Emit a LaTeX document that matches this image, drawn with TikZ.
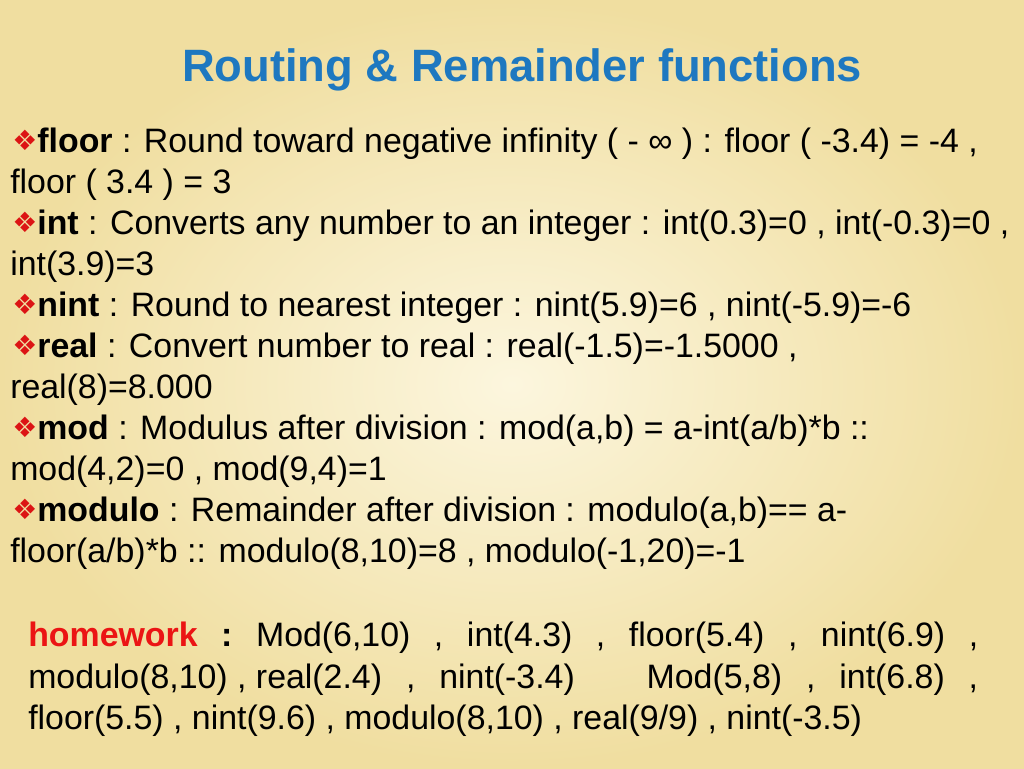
\documentclass[tikz,border=0pt]{standalone}
\usepackage{fontspec}
\setmainfont{Liberation Sans}
\newfontfamily\symfont{DejaVu Sans}
\definecolor{titleblue}{RGB}{30,120,192}
\definecolor{bulletred}{RGB}{220,20,20}
\definecolor{hwred}{RGB}{235,20,20}
\definecolor{bgin}{RGB}{252,246,222}
\definecolor{bgout}{RGB}{240,222,160}
\newcommand{\bul}{{\color{bulletred}\symfont\fontsize{21pt}{21pt}\selectfont\raisebox{1pt}{❖}}}
\tikzset{
  line/.style={anchor=base west,inner sep=0pt,font=\fontsize{25.4pt}{30pt}\selectfont},
  hw/.style={anchor=base west,inner sep=0pt,font=\fontsize{25.4pt}{30pt}\selectfont}
}
\begin{document}
\begin{tikzpicture}[x=0.75pt,y=-0.75pt]
  \useasboundingbox (0,0) rectangle (1024,768);
  \shade[inner color=bgin,outer color=bgout] (0,0) rectangle (1024,768);
  \node[anchor=center,inner sep=0pt,font=\bfseries\fontsize{34pt}{38pt}\selectfont,text=titleblue] (title) at (522,70) {Routing \& Remainder functions};
  % list of functions
  \node[line] (l1) at (12,152) {\bul\textbf{floor} : Round toward negative infinity ( - ∞ ) : floor ( -3.4) = -4 ,};
  \node[line] (l2) at (10,193) {floor ( 3.4 ) = 3};
  \node[line] (l3) at (12,234) {\bul\textbf{int} : Converts any number to an integer : int(0.3)=0 , int(-0.3)=0 ,};
  \node[line] (l4) at (10,275) {int(3.9)=3};
  \node[line] (l5) at (12,316) {\bul\textbf{nint} : Round to nearest integer : nint(5.9)=6 , nint(-5.9)=-6};
  \node[line] (l6) at (12,357) {\bul\textbf{real} : Convert number to real : real(-1.5)=-1.5000 ,};
  \node[line] (l7) at (10,398) {real(8)=8.000};
  \node[line] (l8) at (12,439) {\bul\textbf{mod} : Modulus after division : mod(a,b) = a-int(a/b)*b ::};
  \node[line] (l9) at (10,480) {mod(4,2)=0 , mod(9,4)=1};
  \node[line] (l10) at (12,521) {\bul\textbf{modulo} : Remainder after division : modulo(a,b)== a-};
  \node[line] (l11) at (10,562) {floor(a/b)*b :: modulo(8,10)=8 , modulo(-1,20)=-1};
  % homework
  \node[hw] (h1) at (28,646) {\hbox to 712.5pt{{\color{hwred}\textbf{homework}}\hfill\textbf{:}\hfill Mod(6,10)\hfill,\hfill int(4.3)\hfill,\hfill floor(5.4)\hfill,\hfill nint(6.9)\hfill,}};
  \node[hw] (h2) at (28,688) {\hbox to 712.5pt{modulo(8,10) , real(2.4)\hfill,\hfill nint(-3.4)\hfill\hfill\hfill Mod(5,8)\hfill,\hfill int(6.8)\hfill,}};
  \node[hw] (h3) at (28,729) {floor(5.5) , nint(9.6) , modulo(8,10) , real(9/9) , nint(-3.5)};
\end{tikzpicture}
\end{document}
